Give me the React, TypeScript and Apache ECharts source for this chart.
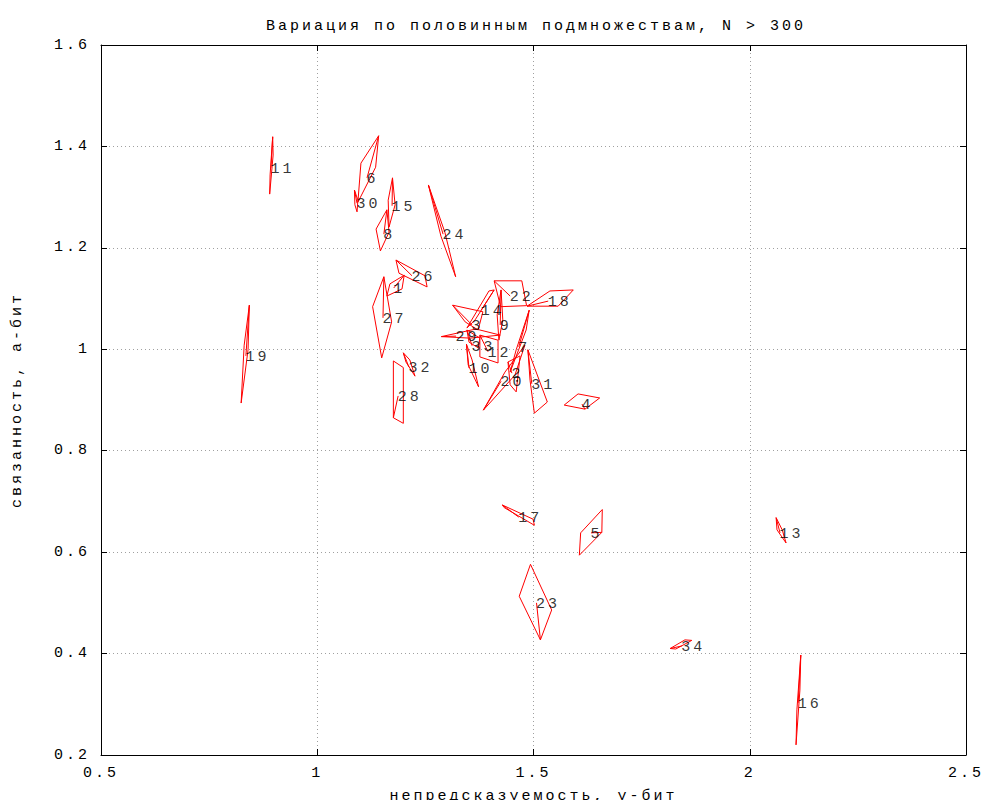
import React, { useEffect, useRef } from "react";
import * as echarts from "echarts";

const titleText = "Вариация по половинным подмножествам, N > 300";
const xName = "непредсказуемость, у-бит";
const yName = "связанность, а-бит";

const shapeIds = ["1","2","3","4","5","6","7","8","9","10","11","12","13","14","15","16","17","18","19","20","22","23","24","26","27","28","29","30","31","32","33","34"];
const centerX = [1.177,1.450,1.358,1.612,1.633,1.115,1.466,1.154,1.423,1.351,0.893,1.395,2.070,1.379,1.173,2.112,1.466,1.534,0.835,1.425,1.446,1.507,1.291,1.219,1.152,1.187,1.321,1.092,1.496,1.212,1.358,1.843];
const centerY = [1.121,0.953,1.048,0.892,0.638,1.338,1.005,1.227,1.048,0.963,1.358,0.995,0.638,1.077,1.283,0.303,0.669,1.095,0.987,0.937,1.105,0.500,1.227,1.145,1.062,0.908,1.026,1.288,0.932,0.965,1.007,0.415];
const outlines: number[][][] = [
  [[1.201,1.146],[1.168,1.129],[1.161,1.105],[1.196,1.119]],
  [[1.441,0.975],[1.469,0.987],[1.460,0.916],[1.446,0.930]],
  [[1.313,1.087],[1.383,1.074],[1.372,1.038],[1.342,1.054]],
  [[1.619,0.882],[1.571,0.890],[1.603,0.912],[1.653,0.904]],
  [[1.658,0.639],[1.659,0.684],[1.609,0.638],[1.606,0.594]],
  [[1.142,1.421],[1.135,1.359],[1.094,1.290],[1.101,1.367]],
  [[1.490,1.077],[1.483,1.038],[1.446,0.955],[1.460,0.999]],
  [[1.161,1.275],[1.166,1.231],[1.146,1.194],[1.136,1.237]],
  [[1.425,1.117],[1.429,1.058],[1.420,1.018],[1.416,1.068]],
  [[1.345,1.010],[1.358,0.979],[1.373,0.926],[1.349,0.969]],
  [[0.897,1.419],[0.898,1.383],[0.890,1.306],[0.891,1.344]],
  [[1.376,1.028],[1.418,1.018],[1.418,0.973],[1.376,0.985]],
  [[2.061,0.668],[2.075,0.644],[2.084,0.618],[2.063,0.644]],
  [[1.409,1.117],[1.365,1.058],[1.346,1.042],[1.397,1.115]],
  [[1.174,1.338],[1.180,1.285],[1.166,1.241],[1.164,1.294]],
  [[2.118,0.397],[2.116,0.328],[2.107,0.220],[2.109,0.289]],
  [[1.428,0.693],[1.499,0.665],[1.502,0.653],[1.432,0.688]],
  [[1.485,1.085],[1.538,1.115],[1.592,1.117],[1.557,1.085]],
  [[0.843,1.087],[0.840,0.999],[0.824,0.894],[0.831,1.008]],
  [[1.384,0.880],[1.434,0.955],[1.480,1.008],[1.457,0.949]],
  [[1.409,1.135],[1.473,1.135],[1.484,1.086],[1.424,1.084]],
  [[1.516,0.427],[1.542,0.486],[1.493,0.576],[1.467,0.513]],
  [[1.257,1.324],[1.295,1.231],[1.320,1.143],[1.286,1.223]],
  [[1.182,1.176],[1.249,1.145],[1.254,1.123],[1.189,1.150]],
  [[1.154,1.143],[1.172,1.054],[1.149,0.983],[1.128,1.084]],
  [[1.176,0.865],[1.176,0.977],[1.199,0.964],[1.199,0.854]],
  [[1.287,1.025],[1.367,1.040],[1.423,1.028],[1.353,1.022]],
  [[1.086,1.314],[1.094,1.294],[1.092,1.271],[1.087,1.285]],
  [[1.487,0.999],[1.532,0.896],[1.502,0.874],[1.492,0.939]],
  [[1.199,0.993],[1.214,0.979],[1.226,0.947],[1.205,0.975]],
  [[1.346,1.038],[1.376,1.022],[1.372,1.003],[1.351,1.014]],
  [[1.816,0.410],[1.850,0.427],[1.866,0.426],[1.829,0.409]],
];

const FONT = "Liberation Mono";
const FS = 15;
const SPACING = "3px";

export default function App() {
  const ref = useRef<HTMLDivElement>(null);
  useEffect(() => {
    if (!ref.current) return;
    const el = ref.current;
    const chart = echarts.init(el, null, { renderer: "svg" });

    const axisCommon = {
      axisLine: { show: true, lineStyle: { color: "#000", width: 1 } },
      axisTick: { show: true, inside: true, length: 6, lineStyle: { color: "#000" } },
      splitLine: { show: false },
    };

    const shapeSeries = shapeIds.map((id, i) => {
      const v = outlines[i];
      const pts = [[centerX[i], centerY[i]], v[0], v[1], v[2], v[3], v[0]];
      return {
        type: "line",
        name: "s" + id,
        data: pts,
        showSymbol: false,
        symbol: "none",
        silent: true,
        lineStyle: { color: "#ff0000", width: 1 },
        z: 3,
      };
    });

    const labelSeries = {
      type: "scatter",
      data: shapeIds.map((id, i) => [centerX[i], centerY[i], id]),
      symbolSize: 1,
      itemStyle: { color: "rgba(0,0,0,0)" },
      silent: true,
      z: 4,
      label: {
        show: true,
        position: [0, 0],
        offset: [0, 2],
        align: "left",
        verticalAlign: "middle",
        formatter: (p: any) => p.data[2],
        fontFamily: FONT,
        fontSize: FS,
        color: "#000",
      },
    };

    chart.setOption({
      animation: false,
      title: {
        text: titleText,
        left: 531,
        textAlign: "center",
        top: 14,
        textStyle: { fontFamily: FONT, fontSize: FS, fontWeight: "normal", color: "#000" },
      },
      grid: { left: 101, right: 34, top: 45, bottom: 45, outerBoundsMode: "none", containLabel: false },
      xAxis: [
        {
          type: "value",
          min: 0.5,
          max: 2.5,
          interval: 0.5,
          position: "bottom",
          name: xName,
          nameLocation: "middle",
          nameGap: 34,
          nameTextStyle: { fontFamily: FONT, fontSize: FS, color: "#000" },
          ...axisCommon,
          splitLine: { show: true, lineStyle: { color: "#a0a0a0", type: [1, 3], width: 1 } },
          axisLabel: { margin: 11, fontFamily: FONT, fontSize: FS, color: "#000" },
        },
        {
          type: "value",
          min: 0.5,
          max: 2.5,
          interval: 0.5,
          position: "top",
          ...axisCommon,
          axisLabel: { show: false },
        },
      ],
      yAxis: [
        {
          type: "value",
          min: 0.2,
          max: 1.6,
          interval: 0.2,
          position: "left",
          name: yName,
          nameLocation: "middle",
          nameGap: 76,
          nameTextStyle: { fontFamily: FONT, fontSize: FS, color: "#000" },
          ...axisCommon,
          splitLine: { show: true, lineStyle: { color: "#a0a0a0", type: [1, 3], width: 1 } },
          axisLabel: { margin: 11, fontFamily: FONT, fontSize: FS, color: "#000" },
        },
        {
          type: "value",
          min: 0.2,
          max: 1.6,
          interval: 0.2,
          position: "right",
          ...axisCommon,
          axisLabel: { show: false },
        },
      ],
      series: [...shapeSeries, labelSeries],
    } as any);

    const applySpacing = () => {
      el.querySelectorAll("text").forEach((t) => {
        t.setAttribute("letter-spacing", SPACING);
      });
    };
    chart.on("rendered", applySpacing);
    applySpacing();
    const tid = window.setTimeout(applySpacing, 50);

    return () => {
      window.clearTimeout(tid);
      chart.dispose();
    };
  }, []);
  return (
    <div
      ref={ref}
      style={{ position: "fixed", left: 0, top: 0, width: 1000, height: 800, background: "#fff" }}
    />
  );
}
